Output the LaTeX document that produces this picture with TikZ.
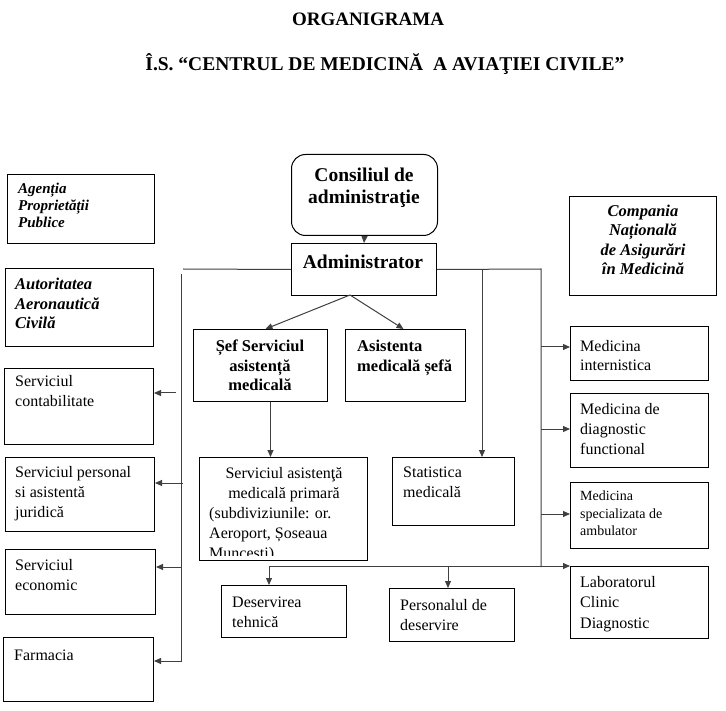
\documentclass[tikz,border=0pt]{standalone}
\usepackage{fontspec}
\setmainfont{Liberation Serif}
\usetikzlibrary{arrows.meta,calc}
\newcommand{\ogbox}[6][]{\node[ogb,#1,minimum width={#4-#2},minimum height={#5-#3}] (#6) at (#2,#3) {};}
\tikzset{
  ogb/.style={draw=black, line width=1pt, inner sep=0pt, anchor=north west},
  conn/.style={draw=black!75, line width=1pt},
  arr/.style={conn, -{Triangle[length=7pt,width=6pt]}},
  txt/.style={inner sep=0pt, anchor=north west, align=left, font=\fontsize{16}{20}\selectfont},
  ctxt/.style={inner sep=0pt, anchor=north, align=center, font=\fontsize{16}{20}\selectfont},
}
\begin{document}
\begin{tikzpicture}[x=1pt,y=-1pt]
\fill[white] (0,0) rectangle (726,711);
\useasboundingbox (0,0) rectangle (726,711);

% title
\node[inner sep=0pt, anchor=base, font=\fontsize{19}{24}\selectfont\bfseries] (title1) at (368,26) {ORGANIGRAMA};
\node[inner sep=0pt, anchor=base, font=\fontsize{19.5}{24}\selectfont\bfseries] (title2) at (385,71) {Î.S. “CENTRUL DE MEDICINĂ\ \ A AVIAŢIEI CIVILE”};

% boxes
\ogbox{7}{174}{154}{243}{agentia}
\ogbox{5}{268}{153}{346}{autoritatea}
\ogbox[rounded corners=14pt]{291}{154}{437}{235}{consiliu}
\ogbox{291}{243}{436}{295}{admin}
\ogbox{569}{196}{716}{295}{compania}
\ogbox{193}{329}{327}{401}{sef}
\ogbox{345}{329}{465}{401}{asist}
\ogbox{4}{368}{153}{444}{contab}
\ogbox{570}{326}{708}{380}{intern}
\ogbox{570}{393}{708}{467}{diagn}
\ogbox{5}{457}{154}{531}{personal}
\ogbox{199}{457}{367}{560}{primar}
\ogbox{392}{457}{514}{525}{stat}
\ogbox{570}{482}{708}{548}{special}
\ogbox{5}{549}{155}{614}{econ}
\ogbox{221}{585}{346}{637}{deserv}
\ogbox{389}{588}{514}{641}{persdes}
\ogbox{570}{566}{708}{638}{lab}
\ogbox{3}{637}{153}{701}{farm}

% texts
\node[txt, font=\fontsize{15}{17}\selectfont\bfseries\itshape] (t-agentia) at (18,183) {Agenția\\Proprietății\\Publice};
\node[txt, font=\fontsize{16.5}{19.5}\selectfont\bfseries\itshape] (t-autoritatea) at (15,278) {Autoritatea\\Aeronautică\\Civilă};
\node[ctxt, font=\fontsize{19.5}{22}\selectfont\bfseries] (t-consiliu) at (364,168) {Consiliul de\\administraţie};
\node[ctxt, font=\fontsize{19.5}{22}\selectfont\bfseries] (t-admin) at (363,255) {Administrator};
\node[ctxt, font=\fontsize{16.5}{19.3}\selectfont\bfseries\itshape] (t-compania) at (643,205) {Compania\\Națională\\de Asigurări\\în Medicină};
\node[ctxt, font=\fontsize{16.5}{19.5}\selectfont\bfseries] (t-sef) at (260,340) {Șef Serviciul\\asistență\\medicală};
\node[txt, font=\fontsize{16.5}{19.5}\selectfont\bfseries] (t-asist) at (357,340) {Asistenta\\medicală șefă};
\node[txt] (t-contab) at (15,375) {Serviciul\\contabilitate};
\node[txt, font=\fontsize{16}{19}\selectfont] (t-intern) at (580,340) {Medicina\\internistica};
\node[txt] (t-diagn) at (580,403) {Medicina de\\diagnostic\\functional};
\node[txt] (t-personal) at (15,466) {Serviciul personal\\si asistentă\\juridică};
\begin{scope}
\clip (200,458) rectangle (366,555);
\node[ctxt] (t-primar1) at (284,467) {Serviciul asistenţă\\medicală primară};
\node[txt] (t-primar2) at (209,507) {(subdiviziunile: or.\\Aeroport, Șoseaua\\Muncesti)};
\end{scope}
\node[txt] (t-stat) at (403,467) {Statistica\\medicală};
\node[txt, font=\fontsize{14}{17.5}\selectfont] (t-special) at (580,491) {Medicina\\specializata de\\ambulator};
\node[txt] (t-econ) at (15,559) {Serviciul\\economic};
\node[txt] (t-deserv) at (232,597) {Deservirea\\tehnică};
\node[txt] (t-persdes) at (400,599) {Personalul de\\deservire};
\node[txt, font=\fontsize{16}{20.5}\selectfont] (t-lab) at (580,576) {Laboratorul\\Clinic\\Diagnostic};
\node[txt] (t-farm) at (14,650) {Farmacia};

% connectors
\draw[arr] (consiliu.south) -- (admin.north);
\coordinate (hl) at (183,269);
\draw[conn] (admin.west) -- (hl);
\coordinate (lv) at (181,274);
\coordinate (lvb) at (181,661);
\draw[arr] (lv) -- (lvb) -- (lvb -| farm.east);
\coordinate (c1) at (176,393);
\draw[arr] (c1) -- (c1 -| contab.east);
\coordinate (c2) at (183,483);
\draw[arr] (c2) -- (c2 -| personal.east);
\coordinate (c3) at (181,567);
\draw[arr] (c3) -- (c3 -| econ.east);

\coordinate (rtop) at (541,269);
\coordinate (rbot) at (541,567);
\draw[conn] (admin.east) -- (rtop) -- (rbot);
\coordinate (r1) at (541,347);
\draw[arr] (r1) -- (r1 -| intern.west);
\coordinate (r2) at (541,429);
\draw[arr] (r2) -- (r2 -| diagn.west);
\coordinate (r3) at (541,514);
\draw[arr] (r3) -- (r3 -| special.west);

\coordinate (sv) at (482,269);
\draw[arr] (sv) -- (sv |- stat.north);

\coordinate (as) at (350,295);
\draw[arr] (as) -- ($(sef.north)+(5,0)$);
\draw[arr] (as) -- ($(asist.north)+(-2,0)$);

\coordinate (sd) at ($(sef.south)+(10,0)$);
\draw[arr] (sd) -- (sd |- primar.north);

\coordinate (b1) at (269,566);
\coordinate (b2) at (448,566);
\draw[arr] (b1) -- (lab.north west);
\draw[arr] (b1) -- (b1 |- deserv.north);
\draw[arr] (b2) -- (b2 |- persdes.north);
\end{tikzpicture}
\end{document}
